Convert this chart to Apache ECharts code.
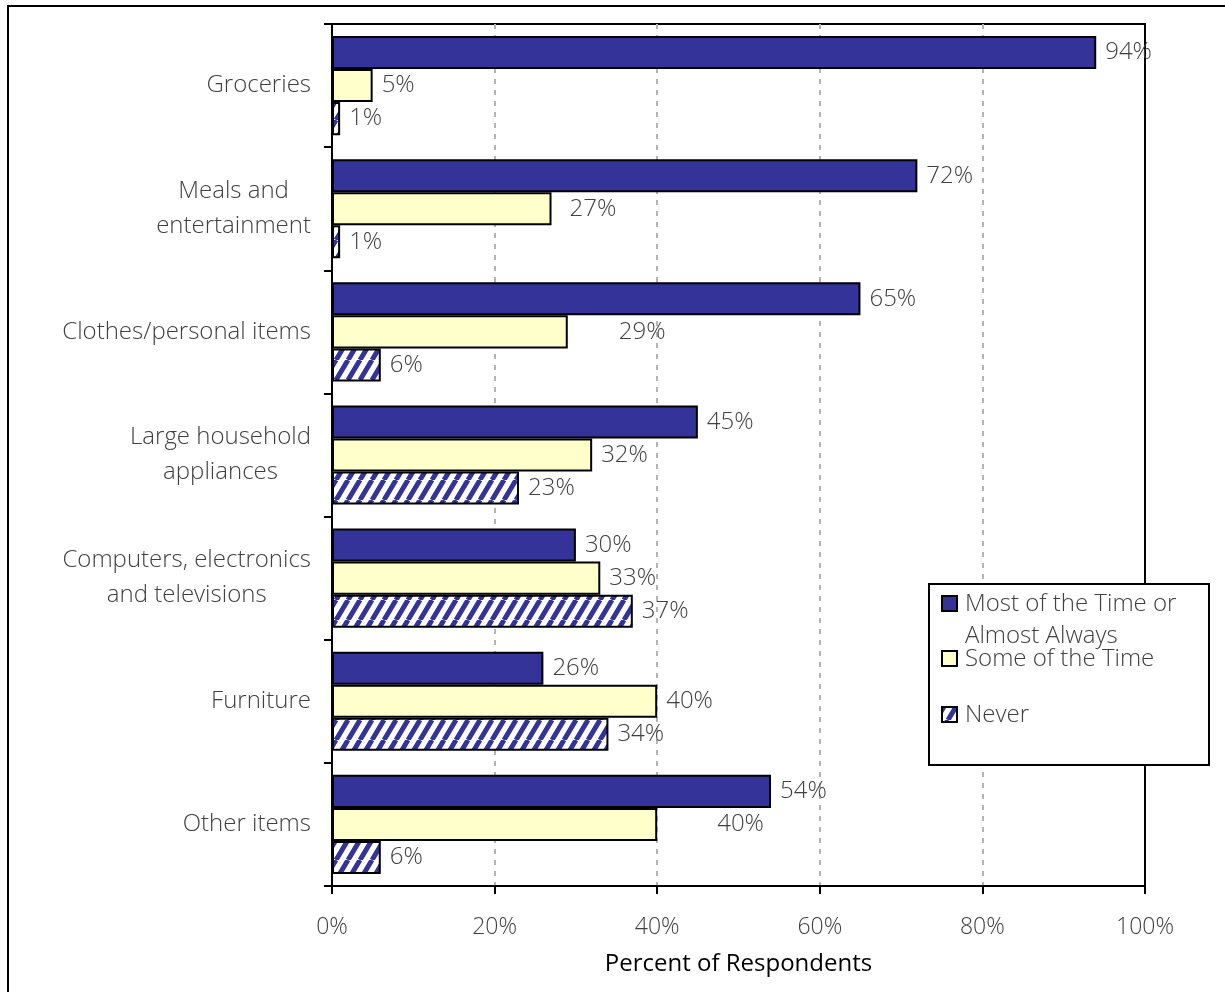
<!DOCTYPE html>
<html>
<head>
<meta charset="utf-8">
<script src="https://cdn.jsdelivr.net/npm/echarts@6/dist/echarts.min.js"></script>
<style>
html,body{margin:0;padding:0;background:#fff;}
#chart{width:1225px;height:992px;}
</style>
</head>
<body>
<div id="chart"></div>
<script>
// ---- data ----
const categories = [
  'Groceries',
  'Meals and\nentertainment',
  'Clothes/personal items',
  'Large household\nappliances',
  'Computers, electronics\nand televisions',
  'Furniture',
  'Other items'
];
const seriesNames = ['Most of the Time or\nAlmost Always', 'Some of the Time', 'Never'];
const mostOfTheTime = [94, 72, 65, 45, 30, 26, 54];
const someOfTheTime = [5, 27, 29, 32, 33, 40, 40];
const never = [1, 1, 6, 23, 37, 34, 6];
const xTickValues = [0, 20, 40, 60, 80, 100];

// ---- style ----
const FONT = '"Open Sans", Lato, sans-serif';
const NAVY = '#333399';
const CREAM = '#FFFFCC';
const TEXT = '#404040';
// Label nudges seen in the reference (series index -> {category index: dx})
const labelNudge = {1: {1: 9, 2: 42, 6: 51}};

function makeHatch() {
  const w = 12, h = 20;
  const c = document.createElement('canvas');
  c.width = w; c.height = h;
  const g = c.getContext('2d');
  g.fillStyle = '#ffffff';
  g.fillRect(0, 0, w, h);
  g.strokeStyle = NAVY;
  g.lineWidth = 5;
  g.beginPath();
  for (const k of [-w, 0, w]) {
    g.moveTo(k, h);
    g.lineTo(k + w, 0);
  }
  g.stroke();
  return c;
}
const hatch = {image: makeHatch(), repeat: 'repeat'};

function buildData(values, si) {
  return values.map((v, ci) => {
    const dx = labelNudge[si] && labelNudge[si][ci];
    return dx ? {value: v, label: {offset: [dx, 0]}} : v;
  });
}

const fills = [NAVY, CREAM, hatch];
const valuesList = [mostOfTheTime, someOfTheTime, never];

const chart = echarts.init(document.getElementById('chart'), null, {renderer: 'canvas'});

const series = valuesList.map((vals, si) => ({
  name: seriesNames[si],
  type: 'bar',
  data: buildData(vals, si),
  barGap: '0%',
  barCategoryGap: '19.5%',
  itemStyle: {color: fills[si], borderColor: '#000', borderWidth: 2},
  label: {
    show: true,
    position: 'right',
    distance: 9,
    formatter: p => p.value + '%',
    fontFamily: FONT,
    fontWeight: 300,
    fontSize: 24,
    color: TEXT
  },
  emphasis: {disabled: true},
  z: 3
}));

const legendItems = [
  {text: seriesNames[0], y: 604},
  {text: seriesNames[1], y: 659},
  {text: seriesNames[2], y: 715}
];
const legendGraphics = [
  {type: 'rect', shape: {x: 929, y: 584, width: 280, height: 181},
   style: {fill: '#fff', stroke: '#000', lineWidth: 2}, z: 100}
];
legendItems.forEach((it, i) => {
  legendGraphics.push({type: 'rect', shape: {x: 942, y: it.y - 8, width: 15, height: 15},
    style: {fill: fills[i], stroke: '#000', lineWidth: 2}, z: 101});
  legendGraphics.push({type: 'text', x: 965, y: it.y - 16,
    style: {text: it.text, fontFamily: FONT, fontWeight: 300, fontSize: 24, lineHeight: 32,
            fill: TEXT, verticalAlign: 'top', align: 'left'}, z: 101});
});

const option = {
  animation: false,
  backgroundColor: '#fff',
  grid: {left: 332, right: 80, top: 24, bottom: 106, show: true,
         borderColor: '#000', borderWidth: 2, backgroundColor: 'transparent'},
  xAxis: {
    type: 'value', min: 0, max: 100, interval: 20,
    name: 'Percent of Respondents', nameLocation: 'middle', nameGap: 66,
    nameTextStyle: {fontFamily: FONT, fontSize: 24, color: '#000'},
    axisLine: {show: true, lineStyle: {color: '#000', width: 2}},
    axisTick: {show: true, length: 8, lineStyle: {color: '#000', width: 2}},
    axisLabel: {margin: 30, fontFamily: FONT, fontWeight: 300, fontSize: 23, color: TEXT,
      formatter: v => xTickValues.includes(v) ? v + '%' : ''},
    splitLine: {show: true, showMinLine: false, showMaxLine: false,
      lineStyle: {color: '#b4b4b4', width: 2, type: [5, 6]}}
  },
  yAxis: {
    type: 'category', inverse: true, data: categories,
    axisLine: {show: true, lineStyle: {color: '#000', width: 2}},
    axisTick: {show: true, length: 8, lineStyle: {color: '#000', width: 2}},
    axisLabel: {
      margin: 21,
      formatter: v => v.split('\n').map(s => '{a|' + s + '}').join('\n'),
      rich: {a: {fontFamily: FONT, fontWeight: 300, fontSize: 24, lineHeight: 35, color: TEXT, align: 'center'}}
    },
    splitLine: {show: false}
  },
  series: series,
  graphic: [
    {type: 'rect', shape: {x: 8, y: 6, width: 1300, height: 1100},
     style: {fill: 'none', stroke: '#000', lineWidth: 2}, z: 0, silent: true}
  ].concat(legendGraphics)
};
chart.setOption(option);
</script>
</body>
</html>
